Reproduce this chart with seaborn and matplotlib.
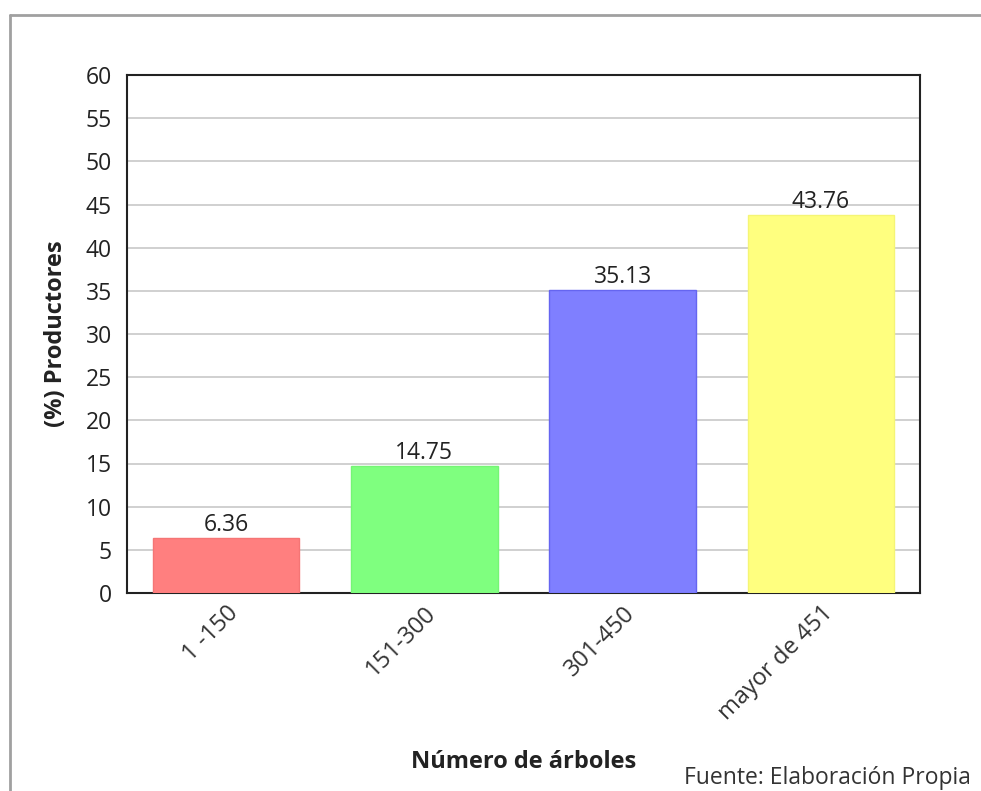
import matplotlib
matplotlib.use("Agg")
import matplotlib.pyplot as plt
import seaborn as sns
import pandas as pd
from matplotlib.lines import Line2D

categories = ["1 -150", "151-300", "301-450", "mayor de 451"]
values = [6.36, 14.75, 35.13, 43.76]
colors = ["#FF7F7F", "#7FFF7F", "#7F7FFF", "#FFFF7F"]
edge_colors = ["#F57575", "#75F575", "#6565F0", "#F5F575"]

sns.set_theme(style="white")
plt.rcParams['font.family'] = ['Open Sans', 'DejaVu Sans']

df = pd.DataFrame({"cat": categories, "val": values})

fig = plt.figure(figsize=(9.81, 7.91), dpi=100)
ax = fig.add_axes([127/981, 1-593/791, (920-127)/981, (593-75)/791])

sns.barplot(data=df, x="cat", y="val", hue="cat", palette=colors, dodge=False,
            width=0.74, ax=ax, legend=False, saturation=1)
for patch, ec in zip(ax.patches, edge_colors):
    patch.set_edgecolor(ec)
    patch.set_linewidth(1.0)
    patch.set_zorder(3)

ax.set_ylim(0, 60)
ax.set_yticks(range(0, 61, 5))
ax.yaxis.grid(True, color="#C8C8C8", linewidth=1.2, zorder=0)
ax.set_axisbelow(True)
for s in ax.spines.values():
    s.set_color("#222222")
    s.set_linewidth(1.5)

fs = 16.5
ax.tick_params(axis="y", labelsize=fs, colors="#222222", length=0, pad=11)
ax.tick_params(axis="x", labelsize=17, colors="#333333", length=0, pad=6)
plt.setp(ax.get_xticklabels(), rotation=45, ha="right", rotation_mode="anchor")

for i, v in enumerate(values):
    ax.text(i, v + 0.1, f"{v:.2f}", ha="center", va="bottom", fontsize=fs, color="#222222")

ax.set_xlabel("Número de árboles", fontsize=17, fontweight="bold", color="#222222")
ax.set_ylabel("(%) Productores", fontsize=17, fontweight="bold", color="#222222")
ax.xaxis.set_label_coords(0.5, (593-750)/(593-75))
ax.yaxis.set_label_coords((68-127)/(920-127), 0.5)

fig.text(971/981, 1-778/791, "Fuente: Elaboración Propia", ha="right", va="center",
         fontsize=16.5, color="#333333")

# outer gray frame (top and left)
fig.add_artist(Line2D([10/981, 1.0], [1-15/791, 1-15/791], color="#A0A0A0", linewidth=2, transform=fig.transFigure))
fig.add_artist(Line2D([10/981, 10/981], [0.0, 1-15/791], color="#A0A0A0", linewidth=2, transform=fig.transFigure))

fig.savefig("out.png", dpi=100, facecolor="white")
